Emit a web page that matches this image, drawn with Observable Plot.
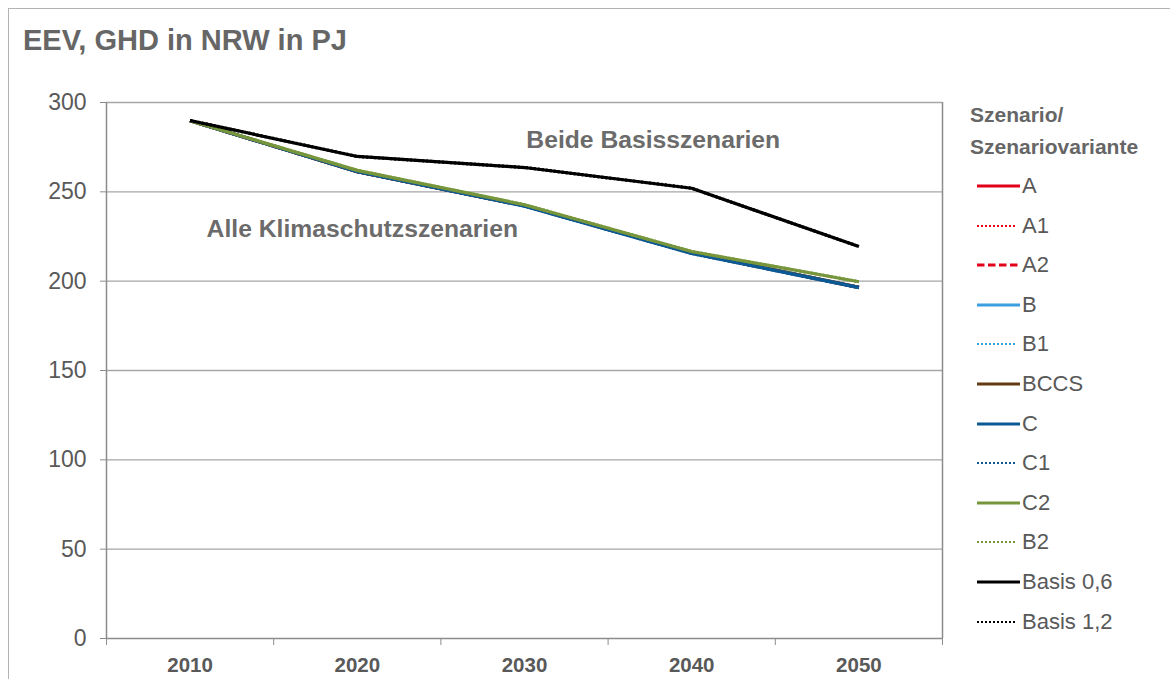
<!DOCTYPE html>
<html>
<head>
<meta charset="utf-8">
<script src="https://cdn.jsdelivr.net/npm/d3@7"></script>
<script src="https://cdn.jsdelivr.net/npm/@observablehq/plot@0.6"></script>
<style>
  html, body { margin: 0; padding: 0; background: #fff; }
  #wrap { position: relative; width: 1170px; height: 679px; overflow: hidden; font-family: "Liberation Sans", Arial, sans-serif; }
  #frame { position: absolute; left: 8px; top: 8px; width: 1300px; height: 800px; border: 1px solid #b3b3b3; box-sizing: border-box; }
  #title { position: absolute; left: 23px; top: 24px; font-size: 29px; line-height: 33px; font-weight: bold; color: #666; white-space: nowrap; }
  #chart { position: absolute; left: 0; top: 0; }
  #legend { position: absolute; left: 970px; top: 99px; color: #595959; }
  #legend .lt { font-size: 21px; font-weight: bold; color: #666; line-height: 32px; white-space: nowrap; }
  #legend .item { position: absolute; left: 0; height: 20px; display: flex; align-items: center; font-size: 22px; white-space: nowrap; }
  #legend svg { flex: none; }
</style>
</head>
<body>
<div id="wrap">
  <div id="frame"></div>
  <div id="chart"></div>
  <div id="title">EEV, GHD in NRW in PJ</div>
  <div id="legend"></div>
</div>
<script>
// ---- data ----
const years = [2010, 2020, 2030, 2040, 2050];
const yTicks = [0, 50, 100, 150, 200, 250, 300];
const series = ["A", "A1", "A2", "B", "B1", "BCCS", "C", "C1", "C2", "B2", "Basis 0,6", "Basis 1,2"];
const colors = ["#e2001a", "#e2001a", "#e2001a", "#3a9ee0", "#3a9ee0", "#633a11", "#0b5a96", "#0b5a96", "#77963b", "#77963b", "#000000", "#000000"];
const dashes = [null, "2,2", "6,3", null, "2,2", null, null, "2,2", null, "2,2", null, "2,2"];
const valA     = [289.8, 261.3, 242.2, 215.8, 196.5];
const valA1    = [289.8, 261.3, 242.2, 215.8, 196.5];
const valA2    = [289.8, 261.3, 242.2, 215.8, 196.5];
const valB     = [289.8, 261.4, 242.3, 215.9, 196.6];
const valB1    = [289.8, 261.4, 242.3, 215.9, 196.6];
const valBCCS  = [289.8, 261.3, 242.2, 215.8, 196.5];
const valC     = [289.8, 261.3, 242.0, 215.5, 196.4];
const valC1    = [289.8, 261.3, 242.0, 215.5, 196.4];
const valC2    = [289.8, 262.0, 242.8, 216.6, 199.7];
const valB2    = [289.8, 262.0, 242.8, 216.6, 199.7];
const valBasis06 = [289.9, 269.8, 263.6, 252.0, 219.4];
const valBasis12 = [289.9, 269.8, 263.6, 252.0, 219.4];
const allValues = [valA, valA1, valA2, valB, valB1, valBCCS, valC, valC1, valC2, valB2, valBasis06, valBasis12];
const annotations = ["Beide Basisszenarien", "Alle Klimaschutzszenarien"];
const annoX = [2037.7, 2020.3];
const annoY = [279, 229];

// draw order: hidden ones first, visible C then C2, then Basis on top
const drawOrder = [0, 1, 2, 3, 4, 5, 7, 6, 9, 8, 11, 10];
const rows = [];
for (const i of drawOrder) {
  years.forEach((yr, j) => rows.push({series: series[i], idx: i, year: yr, value: allValues[i][j]}));
}
const boundaries = d3.range(years[0] - 5, years[years.length - 1] + 6, 10);

const lineMarks = drawOrder.map(i => Plot.line(rows.filter(r => r.idx === i), {
  x: "year", y: "value", stroke: colors[i], strokeWidth: 3.2,
  strokeDasharray: dashes[i] || undefined, strokeLinejoin: "round", strokeLinecap: "butt"
}));

const chart = Plot.plot({
  width: 1170, height: 679,
  marginLeft: 106, marginRight: 228, marginTop: 102, marginBottom: 41,
  style: {fontFamily: "Liberation Sans, Arial, sans-serif", background: "transparent", color: "#595959"},
  x: {type: "linear", domain: [boundaries[0], boundaries[boundaries.length - 1]]},
  y: {domain: [0, 300]},
  marks: [
    Plot.ruleY(yTicks.filter(d => d > 0), {stroke: "#a6a6a6", strokeWidth: 1.3, strokeOpacity: 1}),
    Plot.ruleX([boundaries[boundaries.length - 1]], {stroke: "#8c8c8c", strokeWidth: 1.5}),
    Plot.axisY({ticks: yTicks, tickSize: 6, tickPadding: 14, fontSize: 23, stroke: "#8c8c8c", strokeOpacity: 1, fill: "#595959", label: null}),
    Plot.ruleX([boundaries[0]], {stroke: "#8c8c8c", strokeWidth: 1.5}),
    Plot.axisX({ticks: boundaries, tickSize: 7, tickFormat: () => "", stroke: "#8c8c8c", strokeOpacity: 1, label: null}),
    Plot.axisX({ticks: years, tickSize: 0, tickPadding: 19, tickFormat: d => String(d), fontSize: 20.5, fontWeight: "bold", fill: "#595959", label: null}),
    Plot.ruleY([0], {stroke: "#8c8c8c", strokeWidth: 1.5}),
    ...lineMarks,
    Plot.text(annotations, {x: (d, i) => annoX[i], y: (d, i) => annoY[i], text: d => d, fontSize: 24.7, fontWeight: "bold", fill: "#6b6b6b"})
  ]
});
document.getElementById("chart").appendChild(chart);

// legend
const legend = document.getElementById("legend");
const lt = document.createElement("div");
lt.className = "lt";
lt.innerHTML = "Szenario/<br>Szenariovariante";
legend.appendChild(lt);
series.forEach((s, i) => {
  const item = document.createElement("div");
  item.className = "item";
  item.style.top = (77 + i * 39.6) + "px";
  const ns = "http://www.w3.org/2000/svg";
  const svg = document.createElementNS(ns, "svg");
  svg.setAttribute("width", 52); svg.setAttribute("height", 10);
  const ln = document.createElementNS(ns, "line");
  const dotted = dashes[i] === "2,2";
  ln.setAttribute("x1", 7); ln.setAttribute("x2", dotted ? 45 : 50);
  ln.setAttribute("y1", 5); ln.setAttribute("y2", 5);
  ln.setAttribute("stroke", colors[i]);
  ln.setAttribute("stroke-width", dotted ? 2 : 3);
  if (dashes[i]) ln.setAttribute("stroke-dasharray", dotted ? "2,2" : "7.5,3.5");
  svg.appendChild(ln);
  item.appendChild(svg);
  const t = document.createElement("span");
  t.textContent = s;
  item.appendChild(t);
  legend.appendChild(item);
});
</script>
</body>
</html>
